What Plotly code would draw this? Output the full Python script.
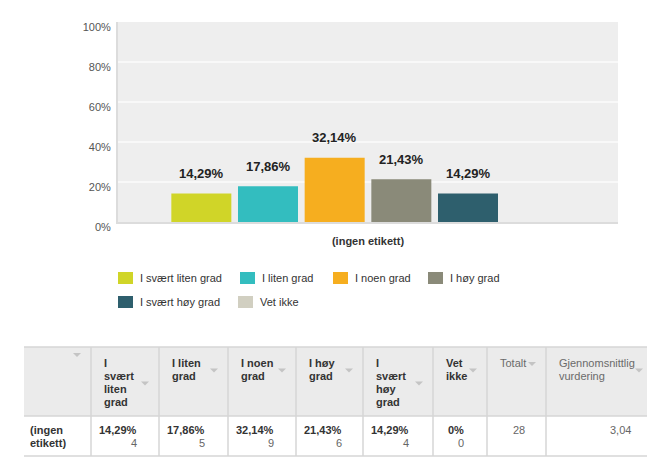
import plotly.graph_objects as go

# ---------------- data ----------------
categories = ["I svært liten grad", "I liten grad", "I noen grad",
              "I høy grad", "I svært høy grad", "Vet ikke"]
percent = [14.29, 17.86, 32.14, 21.43, 14.29, 0.0]
counts = [4, 5, 9, 6, 4, 0]
colors = ["#d0d528", "#33bdbf", "#f6ae1f", "#8a8a79", "#2e5f6d", "#d1cfc1"]
group_label = "(ingen etikett)"
y_ticks = [0, 20, 40, 60, 80, 100]
y_ticklabels = ["0%", "20%", "40%", "60%", "80%", "100%"]
header_labels = [["I", "svært", "liten", "grad"], ["I liten", "grad"], ["I noen", "grad"],
                 ["I høy", "grad"], ["I", "svært", "høy", "grad"], ["Vet", "ikke"],
                 ["Totalt"], ["Gjennomsnittlig", "vurdering"]]
row_label = ["(ingen", "etikett)"]
total_answers = 28
average_rating = "3,04"

# ---------------- layout constants (page pixel coordinates) ----------------
PAGE_OFF = 8            # browser body margin
W, H = 655, 460
PLOT_L, PLOT_T, PW, PH = 118, 22, 500, 200
PB = PLOT_T + PH
FW, FH = W - PAGE_OFF, H - PAGE_OFF
ML, MT = PLOT_L - PAGE_OFF, PLOT_T - PAGE_OFF
MR, MB = FW - ML - PW, FH - MT - PH
BARGAP, BARGROUPGAP = 0.2, 0.1
FONT = "Liberation Sans, Arial, sans-serif"


def fx(p):
    return (p - PLOT_L) / PW


def fy(p):
    return (PB - p) / PH


def fmt(v):
    return (f"{v:.2f}".replace(".", ",") if v else "0") + "%"


fig = go.Figure()
for name, val, col in zip(categories, percent, colors):
    fig.add_trace(go.Bar(x=[group_label], y=[val], name=name, marker_color=col,
                         marker_line_width=0, showlegend=False))

annotations = []
shapes = []


def label(px, py, text, anchor="left", size=11, color="#333", bold=False):
    annotations.append(dict(x=fx(px), y=fy(py), xref="paper", yref="paper",
                            text=f"<b>{text}</b>" if bold else text, showarrow=False,
                            xanchor=anchor, yanchor="middle",
                            font=dict(family=FONT, size=size, color=color)))


# data labels above bars
n = len(categories)
slot = PW * (1 - BARGAP) / n
for i, v in enumerate(percent):
    if v <= 0:
        continue
    annotations.append(dict(x=group_label, y=v, xref="x", yref="y", text="<b>" + fmt(v) + "</b>",
                            showarrow=False, xshift=(i - (n - 1) / 2) * slot, yshift=20,
                            yanchor="middle", xanchor="center",
                            font=dict(family=FONT, size=13, color="#222")))

# custom legend
legend_pos = [(118, 278), (240, 278), (333, 278), (428, 278), (118, 302), (238, 302)]
for (sx, sy), name, col in zip(legend_pos, categories, colors):
    shapes.append(dict(type="rect", xref="paper", yref="paper", x0=fx(sx), x1=fx(sx + 15),
                       y0=fy(sy - 6), y1=fy(sy + 6), fillcolor=col, line_width=0))
    label(sx + 20, sy, name)

# table
col_x = [24, 91, 159, 228, 296, 363, 433, 487, 546, 653]
t_top, t_mid, t_bot = 347, 416, 456
line_col = "#d6d6d6"
shapes.append(dict(type="rect", xref="paper", yref="paper", x0=fx(col_x[0]), x1=fx(col_x[-1]),
                   y0=fy(t_mid), y1=fy(t_top), fillcolor="#ebebeb", line_width=0, layer="below"))
for yy in (t_top, t_mid, t_bot):
    shapes.append(dict(type="line", xref="paper", yref="paper", x0=fx(col_x[0]), x1=fx(col_x[-1]),
                       y0=fy(yy), y1=fy(yy), line=dict(color=line_col, width=1.5)))
for xx in col_x[1:-1]:
    shapes.append(dict(type="line", xref="paper", yref="paper", x0=fx(xx), x1=fx(xx),
                       y0=fy(t_top), y1=fy(t_bot), line=dict(color=line_col, width=1.5)))

# page border on the right
shapes.append(dict(type="rect", xref="paper", yref="paper", x0=fx(648), x1=fx(652),
                   y0=fy(t_top - 1), y1=fy(0), fillcolor="#e6e6e6", line_width=0))
shapes.append(dict(type="rect", xref="paper", yref="paper", x0=fx(648), x1=fx(652),
                   y0=fy(H), y1=fy(t_bot + 1), fillcolor="#e6e6e6", line_width=0))


def triangle(cx, cy):
    return dict(type="path", xref="paper", yref="paper",
                path=f"M {fx(cx - 4)} {fy(cy - 2)} L {fx(cx + 4)} {fy(cy - 2)} L {fx(cx)} {fy(cy + 2)} Z",
                fillcolor="#c4c4c4", line_width=0)


LINE_H = 13
shapes.append(triangle(col_x[1] - 14, 355))
for j, lines in enumerate(header_labels):
    left, right = col_x[j + 1], col_x[j + 2]
    plain = j >= 6
    for k, ln in enumerate(lines):
        label(left + 11, 363 + k * LINE_H, ln, color="#6a6a6a" if plain else "#333", bold=not plain)
    shapes.append(triangle(right - 14, 363 + (len(lines) - 1) * LINE_H / 2 + 1))

# data row
for k, ln in enumerate(row_label):
    label(col_x[0] + 4, 430 + k * LINE_H, ln, bold=True)
for j, (v, c) in enumerate(zip(percent, counts)):
    right_edge = col_x[j + 1] + (48 if v > 0 else 33)
    label(right_edge, 430, fmt(v), anchor="right", bold=True)
    label(right_edge, 443, str(c), anchor="right", color="#666")
label((col_x[7] + col_x[8]) / 2 + 2, 430, str(total_answers), anchor="center", color="#666")
label(col_x[9] - 20, 430, average_rating, anchor="right", color="#666")

fig.update_layout(
    width=FW, height=FH, margin=dict(l=ML, r=MR, t=MT, b=MB, autoexpand=False),
    paper_bgcolor="white", plot_bgcolor="#eeeeee",
    barmode="group", bargap=BARGAP, bargroupgap=BARGROUPGAP,
    showlegend=False, font=dict(family=FONT, size=11, color="#444"),
    annotations=annotations, shapes=shapes,
    xaxis=dict(showline=True, linecolor="#dcdcdc", linewidth=2, showgrid=False,
               ticks="", tickfont=dict(family=FONT, size=11, color="#333", weight="bold"),
               ticklabelstandoff=8, fixedrange=True),
    yaxis=dict(range=[0, 100], tickvals=y_ticks, ticktext=y_ticklabels, showline=True,
               linecolor="#dcdcdc", linewidth=2, gridcolor="#f8f8f8", gridwidth=2,
               zeroline=False, ticks="", tickfont=dict(family=FONT, size=11, color="#555"),
               ticklabelshift=5, ticklabelstandoff=3, fixedrange=True),
)

fig.write_html("out.html")
